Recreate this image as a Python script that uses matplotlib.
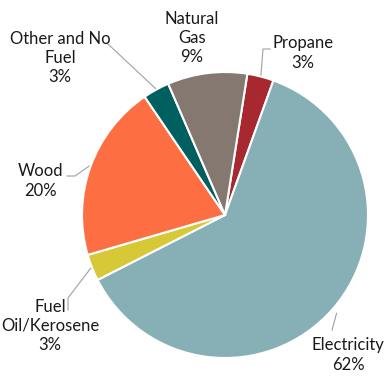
import numpy as np
import matplotlib
matplotlib.use("Agg")
import matplotlib.pyplot as plt

# home heating fuel shares (%)
fuels = ["Propane", "Electricity", "Fuel\nOil/Kerosene", "Wood", "Other and No\nFuel", "Natural\nGas"]
shares = [3, 62, 3, 20, 3, 9]
colors = ["#A8282F", "#86B0B5", "#D6C836", "#FD6E42", "#00605F", "#847870"]

plt.rcParams["font.family"] = ["Lato", "DejaVu Sans"]

fig = plt.figure(figsize=(3.9, 3.77), dpi=100)
ax = fig.add_axes([0.2103, 0.0504, 0.7333, 0.7586])

wedges, _ = ax.pie(shares, colors=colors, startangle=81, counterclock=False,
                   radius=1, wedgeprops=dict(edgecolor="white", linewidth=1.5))
ax.set_xlim(-1, 1)
ax.set_ylim(-1, 1)
ax.set_aspect("equal")
ax.axis("off")

# pixel -> data helper (center 225,215 ; radius 143 px)
def px(x, y):
    return (x - 225) / 143.0, (215 - y) / 143.0

# label centers (pixels) and leader elbow points
label_pos = {
    "Propane": (303, 53),
    "Electricity": (348, 355),
    "Fuel\nOil/Kerosene": (50, 326),
    "Wood": (40, 181),
    "Other and No\nFuel": (60, 58),
    "Natural\nGas": (192, 38),
}
leaders = {
    "Propane": [(263, 49), (270, 49)],
    "Electricity": [(332, 330)],
    "Fuel\nOil/Kerosene": [(68, 298), (68, 310)],
    "Wood": [(75, 176), (67, 176)],
    "Other and No\nFuel": [(108, 44)],
}

for w, name, val in zip(wedges, fuels, shares):
    lx, ly = px(*label_pos[name])
    ax.text(lx, ly, f"{name}\n{val}%", ha="center", va="center", fontsize=12,
            color="#1a1a1a", linespacing=1.25, clip_on=False)
    if name in leaders:
        mid = np.deg2rad((w.theta1 + w.theta2) / 2)
        r = 1.01 if name != "Electricity" else 1.04
        pts = [(r * np.cos(mid), r * np.sin(mid))] + [px(*p) for p in leaders[name]]
        xs, ys = zip(*pts)
        ax.plot(xs, ys, color="#a0a0a0", lw=0.8, clip_on=False)

fig.savefig("out.png", dpi=100)
